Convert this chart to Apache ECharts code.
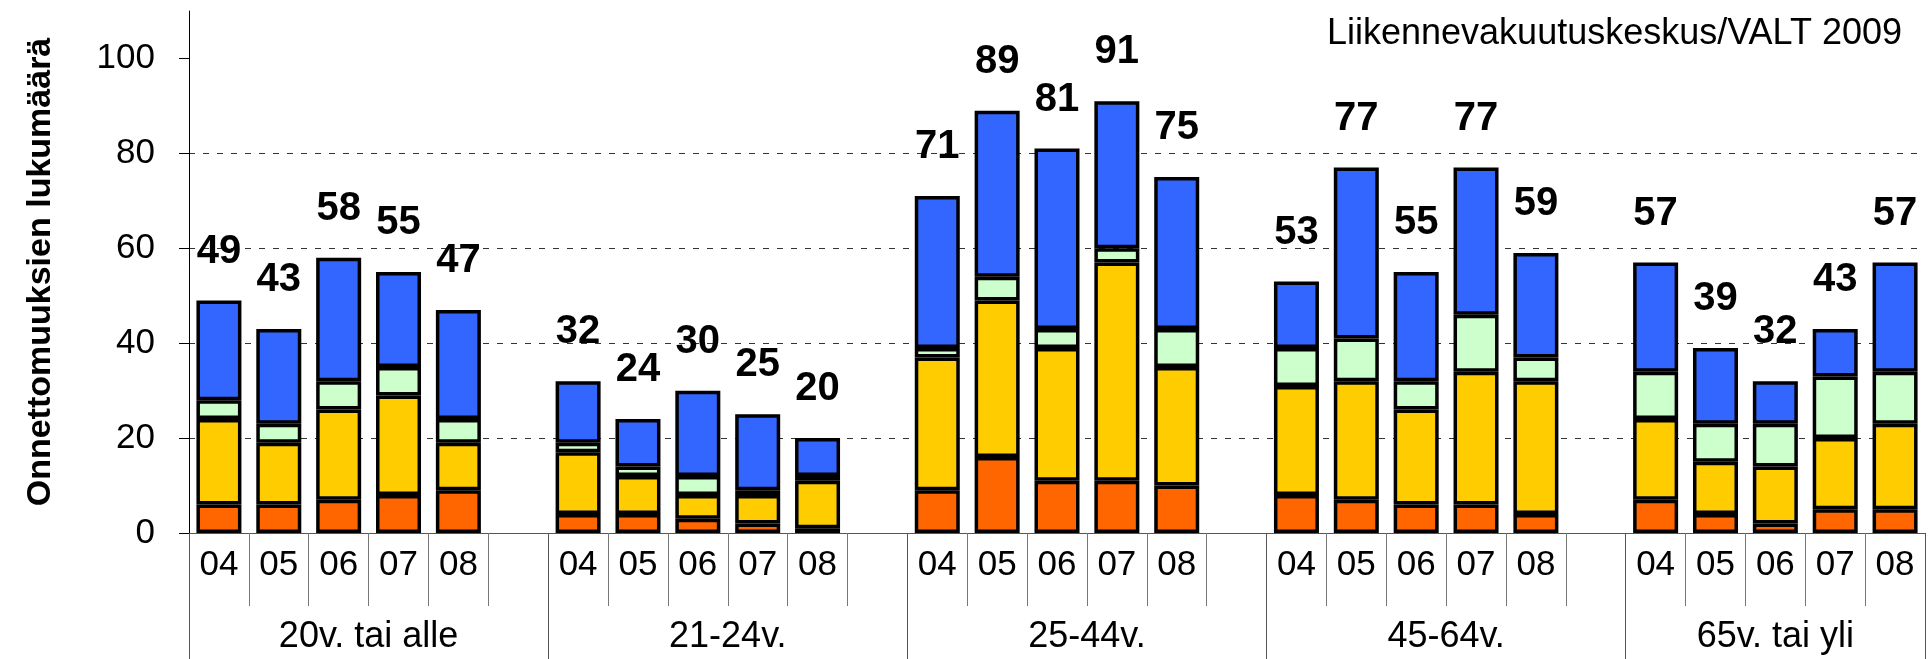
<!DOCTYPE html>
<html>
<head>
<meta charset="utf-8">
<script src="https://cdn.jsdelivr.net/npm/echarts@6/dist/echarts.min.js"></script>
<style>
  html, body { margin: 0; padding: 0; background: #fff; }
  #chart { width: 1930px; height: 659px; }
</style>
</head>
<body>
<div id="chart"></div>
<script>
// Accidents by driver age group and year, stacked in four parts
const years = ['04', '05', '06', '07', '08'];
const groups = ['20v. tai alle', '21-24v.', '25-44v.', '45-64v.', '65v. tai yli'];
const yTicks = [0, 20, 40, 60, 80, 100];
const sourceNote = 'Liikennevakuutuskeskus/VALT 2009';
const axisName = 'Onnettomuuksien lukumäärä';

// Segment values, bottom to top, five years per age group
const segOrange = [6, 6, 7, 8, 9,   4, 4, 3, 2, 1,   9, 16, 11, 11, 10,   8, 7, 6, 6, 4,    7, 4, 2, 5, 5];
const segYellow = [18, 13, 19, 21, 10,  13, 8, 5, 6, 10,  28, 33, 28, 46, 25,  23, 25, 20, 28, 28,  17, 11, 12, 15, 18];
const segGreen  = [4, 4, 6, 6, 5,   2, 2, 4, 1, 1,   2, 5, 4, 3, 8,   8, 9, 6, 12, 5,   10, 8, 9, 13, 11];
const segBlue   = [21, 20, 26, 20, 23,  13, 10, 18, 16, 8,  32, 35, 38, 31, 32,  14, 36, 23, 31, 22,  23, 16, 9, 10, 23];

const segColors = ['#FF6600', '#FFCC00', '#CCFFCC', '#3366FF'];
const fontFamily = '"Liberation Sans", Arial, Helvetica, sans-serif';

// Slot layout: five year slots per group, one empty slot between groups
const slots = [];
groups.forEach((g, gi) => {
  years.forEach((y, yi) => slots.push({ gi, yi }));
  if (gi < groups.length - 1) slots.push(null);
});
const slotLabels = slots.map(s => (s ? years[s.yi] : ''));
const toSlots = arr => slots.map(s => (s ? arr[s.gi * years.length + s.yi] : '-'));

const totals = segOrange.map((v, i) => v + segYellow[i] + segGreen[i] + segBlue[i]);
const totalSlots = toSlots(totals);

// Group row: points at every half slot, so both group edges and centres fall on a point
const groupRow = new Array(slots.length * 2 + 1).fill('');
const groupEdges = new Set([0]);
let start = 0;
groups.forEach((g, gi) => {
  const width = years.length + (gi < groups.length - 1 ? 1 : 0);
  groupRow[start * 2 + width] = g;
  start += width;
  groupEdges.add(start * 2);
});

const segs = [segOrange, segYellow, segGreen, segBlue];

const chart = echarts.init(document.getElementById('chart'), null, { renderer: 'canvas' });
chart.setOption({
  animation: false,
  backgroundColor: '#fff',
  textStyle: { fontFamily },
  title: {
    text: sourceNote,
    right: 28,
    top: 16,
    padding: 0,
    textStyle: { fontSize: 36, fontWeight: 'normal', color: '#000', fontFamily }
  },
  grid: { left: 189, right: 5, top: 11, bottom: 126, containLabel: false, outerBoundsMode: 'none' },
  xAxis: [
    {
      type: 'category',
      data: slotLabels,
      boundaryGap: true,
      axisLine: { show: true, lineStyle: { color: '#555', width: 1 } },
      axisTick: { show: true, interval: 0, length: 73, lineStyle: { color: '#777', width: 1 } },
      axisLabel: { interval: 0, margin: 15, fontSize: 35, color: '#000', fontFamily },
      splitLine: { show: false }
    },
    {
      type: 'category',
      data: groupRow,
      boundaryGap: false,
      position: 'bottom',
      axisLine: { show: false },
      axisTick: {
        show: true,
        interval: idx => groupEdges.has(idx),
        length: 126,
        lineStyle: { color: '#555', width: 1 }
      },
      axisLabel: { interval: 0, margin: 86, fontSize: 36, color: '#000', fontFamily },
      splitLine: { show: false }
    }
  ],
  yAxis: {
    type: 'value',
    min: 0,
    max: 110,
    interval: 20,
    name: axisName,
    nameLocation: 'middle',
    nameGap: 131,
    nameTextStyle: { fontSize: 34, fontWeight: 'bold', color: '#000', fontFamily },
    axisLine: { show: true, lineStyle: { color: '#000', width: 1 } },
    axisTick: { show: true, length: 10, customValues: yTicks, lineStyle: { color: '#000', width: 1 } },
    axisLabel: { margin: 34, fontSize: 35, color: '#000', fontFamily, customValues: yTicks },
    splitLine: {
      show: true,
      showMinLine: false,
      showMaxLine: false,
      lineStyle: { color: '#333', width: 1, type: [6, 8] }
    }
  },
  series: segs.map((arr, i) => ({
    type: 'bar',
    stack: 'total',
    data: toSlots(arr),
    barWidth: 45,
    xAxisIndex: 0,
    itemStyle: { color: segColors[i], borderColor: '#000', borderWidth: 3.5 },
    label: i === segs.length - 1 ? {
      show: true,
      position: 'top',
      distance: 29,
      formatter: p => totalSlots[p.dataIndex],
      fontSize: 40,
      fontWeight: 'bold',
      color: '#000',
      fontFamily
    } : { show: false },
    emphasis: { disabled: true }
  }))
});
</script>
</body>
</html>
